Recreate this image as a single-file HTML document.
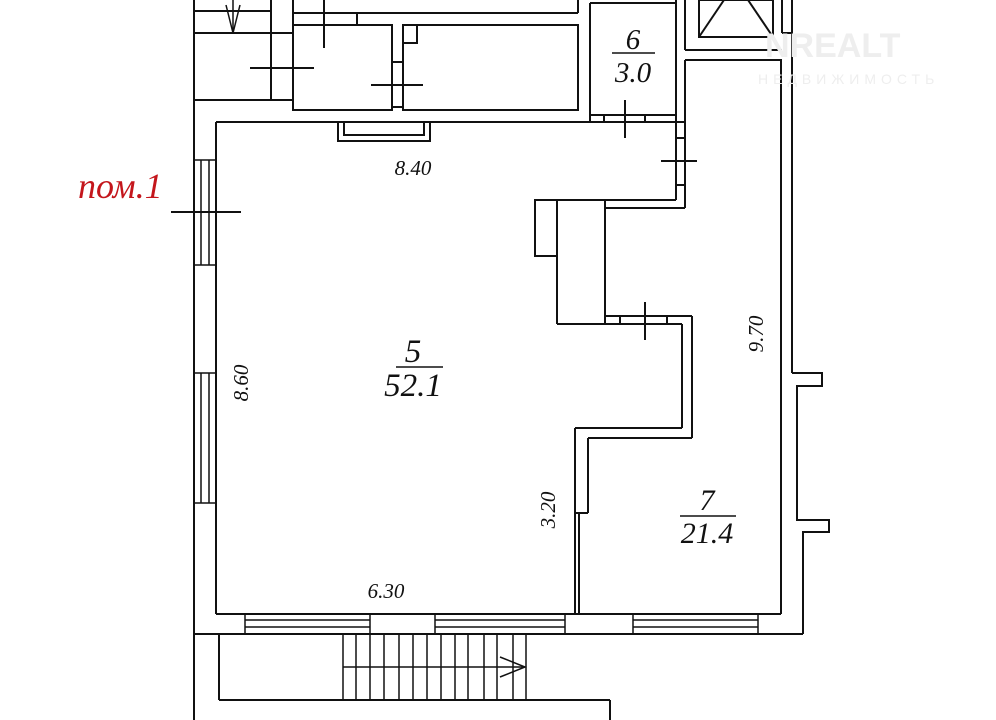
<!DOCTYPE html>
<html><head><meta charset="utf-8"><style>
html,body{margin:0;padding:0;background:#fff;}
svg{display:block;}
text{font-family:"Liberation Serif",serif;font-style:italic;fill:#111;}
</style></head><body>
<svg width="996" height="720" viewBox="0 0 996 720" xmlns="http://www.w3.org/2000/svg">
<g stroke="#111" stroke-width="2" fill="none">
<line x1="194" y1="0" x2="194" y2="720"/>
<line x1="194" y1="11" x2="271" y2="11"/>
<line x1="194" y1="33" x2="293" y2="33"/>
<line x1="194" y1="100" x2="293" y2="100"/>
<line x1="271" y1="0" x2="271" y2="100"/>
<line x1="293" y1="0" x2="293" y2="110"/>
<polyline points="226,5 233,33 240,5" stroke-width="1.5"/>
<line x1="233" y1="0" x2="233" y2="33" stroke-width="1.5"/>
<line x1="293" y1="13" x2="578" y2="13"/>
<line x1="578" y1="0" x2="578" y2="13"/>
<line x1="293" y1="25" x2="357" y2="25"/>
<line x1="357" y1="13" x2="357" y2="25"/>
<rect x="293" y="25" width="99" height="85"/>
<rect x="392" y="62" width="11" height="45"/>
<rect x="403" y="25" width="175" height="85"/>
<rect x="403" y="25" width="14" height="18"/>
<line x1="324" y1="0" x2="324" y2="48"/>
<line x1="250" y1="68" x2="314" y2="68"/>
<line x1="371" y1="85" x2="423" y2="85"/>
<line x1="590" y1="3" x2="676" y2="3"/>
<line x1="590" y1="3" x2="590" y2="122"/>
<line x1="676" y1="0" x2="676" y2="122"/>
<line x1="590" y1="115" x2="676" y2="115"/>
<line x1="604" y1="115" x2="604" y2="122"/>
<line x1="645" y1="115" x2="645" y2="122"/>
<line x1="625" y1="100" x2="625" y2="138"/>
<line x1="685" y1="0" x2="685" y2="50"/>
<line x1="685" y1="50" x2="782" y2="50"/>
<line x1="782" y1="0" x2="782" y2="33"/>
<line x1="782" y1="33" x2="792" y2="33"/>
<line x1="792" y1="0" x2="792" y2="373"/>
<rect x="699" y="0" width="74" height="37"/>
<polyline points="699,37 724,0"/>
<polyline points="773,37 748,0"/>
<line x1="685" y1="60" x2="782" y2="60"/>
<line x1="685" y1="60" x2="685" y2="208"/>
<line x1="781" y1="60" x2="781" y2="614"/>
<line x1="216" y1="122" x2="684" y2="122"/>
<line x1="216" y1="122" x2="216" y2="614"/>
<polyline points="338,122 338,141 430,141 430,122"/>
<rect x="344" y="122" width="80" height="13"/>
<line x1="676" y1="122" x2="676" y2="200"/>
<line x1="676" y1="138" x2="685" y2="138"/>
<line x1="676" y1="185" x2="685" y2="185"/>
<line x1="661" y1="161" x2="697" y2="161"/>
<line x1="536" y1="200" x2="676" y2="200"/>
<line x1="605" y1="208" x2="685" y2="208"/>
<rect x="535" y="200" width="22" height="56"/>
<line x1="557" y1="200" x2="557" y2="324"/>
<line x1="605" y1="200" x2="605" y2="324"/>
<line x1="557" y1="324" x2="605" y2="324"/>
<line x1="605" y1="316" x2="692" y2="316"/>
<line x1="620" y1="316" x2="620" y2="324"/>
<line x1="667" y1="316" x2="667" y2="324"/>
<line x1="605" y1="324" x2="682" y2="324"/>
<line x1="645" y1="302" x2="645" y2="340"/>
<line x1="682" y1="324" x2="682" y2="428"/>
<line x1="692" y1="316" x2="692" y2="438"/>
<line x1="575" y1="428" x2="682" y2="428"/>
<line x1="588" y1="438" x2="692" y2="438"/>
<line x1="575" y1="428" x2="575" y2="614"/>
<line x1="588" y1="438" x2="588" y2="513"/>
<line x1="575" y1="513" x2="588" y2="513"/>
<line x1="579" y1="513" x2="579" y2="614"/>
<polyline points="792,373 822,373 822,386 797,386 797,520 829,520 829,532 803,532 803,634"/>
<line x1="216" y1="614" x2="781" y2="614"/>
<line x1="194" y1="634" x2="803" y2="634"/>
<g stroke-width="1.5">
<rect x="245" y="614" width="125" height="20"/><line x1="245" y1="620" x2="370" y2="620"/><line x1="245" y1="627" x2="370" y2="627"/>
<rect x="435" y="614" width="130" height="20"/><line x1="435" y1="620" x2="565" y2="620"/><line x1="435" y1="627" x2="565" y2="627"/>
<rect x="633" y="614" width="125" height="20"/><line x1="633" y1="620" x2="758" y2="620"/><line x1="633" y1="627" x2="758" y2="627"/>
</g>
<g stroke-width="1.5">
<rect x="194" y="160" width="22" height="105"/><line x1="201" y1="160" x2="201" y2="265"/><line x1="209" y1="160" x2="209" y2="265"/>
<rect x="194" y="373" width="22" height="130"/><line x1="201" y1="373" x2="201" y2="503"/><line x1="209" y1="373" x2="209" y2="503"/>
</g>
<line x1="171" y1="212" x2="241" y2="212"/>
<line x1="219" y1="634" x2="219" y2="700"/>
<line x1="219" y1="700" x2="610" y2="700"/>
<line x1="610" y1="700" x2="610" y2="720"/>
<g stroke-width="1.5">
<line x1="343" y1="667" x2="525" y2="667"/>
<line x1="343" y1="634" x2="343" y2="700"/><line x1="356" y1="634" x2="356" y2="700"/>
<line x1="370" y1="634" x2="370" y2="700"/><line x1="384" y1="634" x2="384" y2="700"/>
<line x1="399" y1="634" x2="399" y2="700"/><line x1="413" y1="634" x2="413" y2="700"/>
<line x1="427" y1="634" x2="427" y2="700"/><line x1="441" y1="634" x2="441" y2="700"/>
<line x1="455" y1="634" x2="455" y2="700"/><line x1="468" y1="634" x2="468" y2="700"/>
<line x1="484" y1="634" x2="484" y2="700"/><line x1="497" y1="634" x2="497" y2="700"/>
<line x1="513" y1="634" x2="513" y2="700"/><line x1="526" y1="634" x2="526" y2="700"/>
<polyline points="500,657 525,667 500,677"/>
</g>
<line x1="396" y1="367" x2="443" y2="367" stroke-width="1.5"/>
<line x1="612" y1="53" x2="655" y2="53" stroke-width="1.5"/>
<line x1="680" y1="516" x2="736" y2="516" stroke-width="1.5"/>
</g>
<text x="765" y="57" style="font-family:'Liberation Sans',sans-serif;font-style:normal;font-weight:bold;font-size:34px;fill:#eee;">NREALT</text>
<text x="758" y="84" style="font-family:'Liberation Sans',sans-serif;font-style:normal;font-size:14px;fill:#eee;letter-spacing:5px;">НЕДВИЖИМОСТЬ</text>
<text x="413" y="175" font-size="21" text-anchor="middle">8.40</text>
<text x="413" y="362" font-size="33" text-anchor="middle">5</text>
<text x="413" y="396" font-size="33" text-anchor="middle">52.1</text>
<text x="633" y="49" font-size="29" text-anchor="middle">6</text>
<text x="633" y="82" font-size="29" text-anchor="middle">3.0</text>
<text x="707" y="510" font-size="30" text-anchor="middle">7</text>
<text x="707" y="543" font-size="30" text-anchor="middle">21.4</text>
<text x="386" y="598" font-size="21" text-anchor="middle">6.30</text>
<text transform="translate(248,383) rotate(-90)" font-size="21" text-anchor="middle">8.60</text>
<text transform="translate(763,334) rotate(-90)" font-size="21" text-anchor="middle">9.70</text>
<text transform="translate(555,510) rotate(-90)" font-size="21" text-anchor="middle">3.20</text>
<text x="78" y="198" font-size="36" style="fill:#c4161c;">пом.1</text>
</svg>
</body></html>
